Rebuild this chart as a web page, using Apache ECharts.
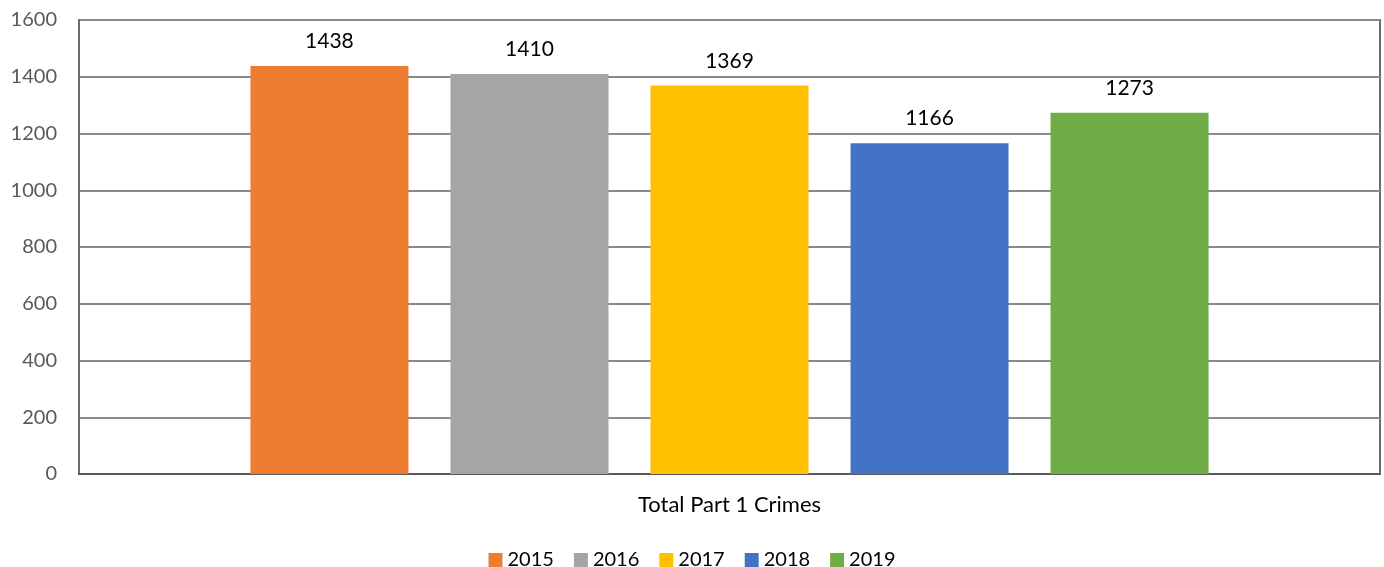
<!DOCTYPE html>
<html><head><meta charset="utf-8">
<script src="https://cdn.jsdelivr.net/npm/echarts@6/dist/echarts.min.js"></script>
<style>html,body{margin:0;padding:0;background:#fff}#c{width:1384px;height:567px}</style>
</head><body><div id="c"></div>
<script>
const categories = ['Total Part 1 Crimes'];
const years = ['2015','2016','2017','2018','2019'];
const values2015 = [1438];
const values2016 = [1410];
const values2017 = [1369];
const values2018 = [1166];
const values2019 = [1273];
const yTicks = {min:0, max:1600, interval:200};
const colors = ['#ED7D31','#A5A5A5','#FFC000','#4472C4','#70AD47'];
const seriesData = [values2015, values2016, values2017, values2018, values2019];
const FONT = 'Lato, "Open Sans", sans-serif';
const chart = echarts.init(document.getElementById('c'));
chart.setOption({
  animation:false,
  textStyle:{fontFamily:FONT},
  grid:{left:79, right:4, top:20, bottom:93, show:true, borderColor:'#6b6b6b', borderWidth:2},
  legend:{top:545, itemWidth:14, itemHeight:14, itemGap:20, icon:'rect',
    textStyle:{fontSize:20, color:'#000', fontFamily:FONT}, data:years},
  xAxis:{type:'category', data:categories,
    axisLine:{show:true, lineStyle:{color:'#595959', width:2}},
    axisTick:{show:false},
    axisLabel:{fontSize:22, color:'#000', margin:20, fontFamily:FONT}},
  yAxis:{type:'value', min:yTicks.min, max:yTicks.max, interval:yTicks.interval,
    axisLine:{show:true, lineStyle:{color:'#6b6b6b', width:2}},
    axisTick:{show:false},
    splitLine:{lineStyle:{color:'#8a8a8a', width:2}},
    axisLabel:{fontSize:20, color:'#595959', margin:22, fontFamily:FONT,
      formatter:(v)=>String(v)}},
  series: years.map((y,i)=>({
    name:y, type:'bar', data:seriesData[i], barWidth:158, barGap:'26.6%',
    itemStyle:{color:colors[i]},
    label:{show:true, position:'top', distance:14, fontSize:21, color:'#000', fontFamily:FONT}
  }))
});
</script></body></html>
